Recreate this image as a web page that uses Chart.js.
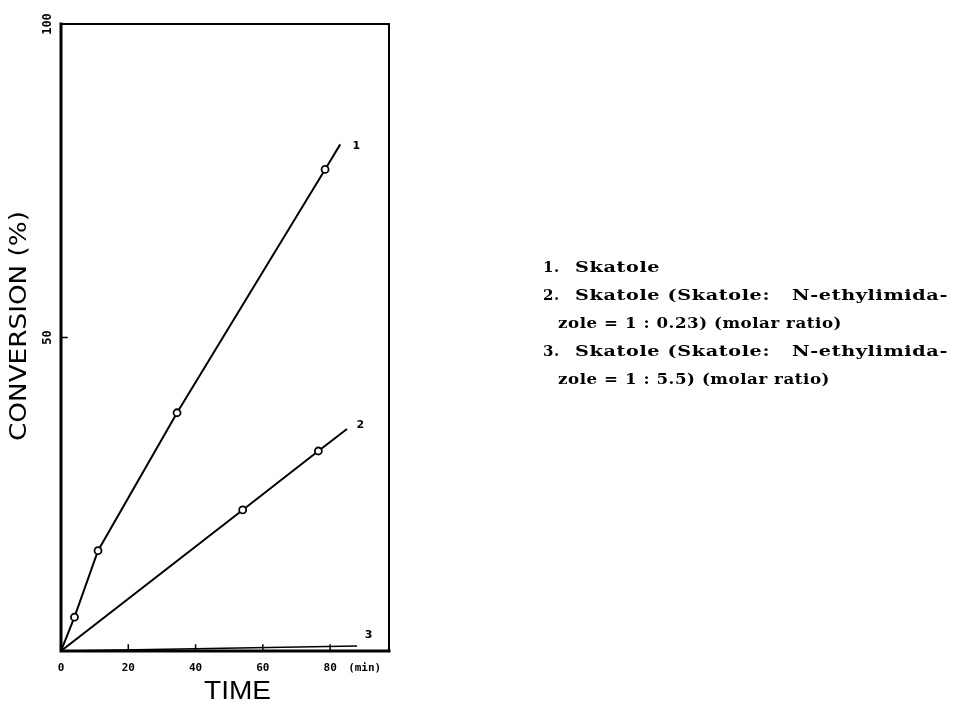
<!DOCTYPE html>
<html>
<head>
<meta charset="utf-8">
<script src="https://cdn.jsdelivr.net/npm/chart.js@4/dist/chart.umd.min.js"></script>
<style>
  html, body { margin: 0; padding: 0; background: #fff; }
  #wrap { width: 956px; height: 714px; }
</style>
</head>
<body>
<div id="wrap"><canvas id="conv" width="956" height="714"></canvas></div>
<script>
// values (time in min, conversion in %)
const time1 = [0, 4, 11, 34.5, 78.5, 83];
const conv1 = [0, 5.4, 16, 38, 76.8, 80.8];
const marks1 = [0, 1, 1, 1, 1, 0];

const time2 = [0, 54, 76.5, 85];
const conv2 = [0, 22.5, 31.9, 35.4];
const marks2 = [0, 1, 1, 0];

const time3 = [0, 88];
const conv3 = [0, 0.8];

const xTicks = [0, 20, 40, 60, 80];
const yTicks = [50, 100];

// where the curve numbers sit (data coords)
const curveLabels = ['1', '2', '3'];
const labelX = [87.8, 89, 91.4];
const labelY = [80.5, 36, 2.6];

const legendNums = ['1.', '2.', '', '3.', ''];
const legendText = [
  'Skatole',
  'Skatole (Skatole:   N-ethylimida-',
  'zole = 1 : 0.23) (molar ratio)',
  'Skatole (Skatole:   N-ethylimida-',
  'zole = 1 : 5.5) (molar ratio)',
];
// printed width of each line (px), null = same stretch as line 2
const legendWidth = [null, 373, 284, 373, 272];

function pts(xs, ys) {
  return xs.map((x, i) => ({ x: x, y: ys[i] }));
}

function fitText(ctx, text, x, y, w) {
  const m = ctx.measureText(text).width;
  ctx.save();
  ctx.translate(x, y);
  ctx.scale(w / m, 1);
  ctx.fillText(text, 0, 0);
  ctx.restore();
}

const decor = {
  id: 'decor',
  afterDraw(chart) {
    const ctx = chart.ctx;
    const a = chart.chartArea;
    const xs = chart.scales.x, ys = chart.scales.y;
    ctx.save();
    ctx.strokeStyle = '#000';
    ctx.fillStyle = '#000';
    ctx.lineCap = 'square';

    // frame
    ctx.lineWidth = 2;
    ctx.beginPath();
    ctx.moveTo(a.left, a.top); ctx.lineTo(a.right, a.top); ctx.lineTo(a.right, a.bottom);
    ctx.stroke();
    ctx.lineWidth = 3;
    ctx.beginPath();
    ctx.moveTo(a.left, a.top); ctx.lineTo(a.left, a.bottom); ctx.lineTo(a.right, a.bottom);
    ctx.stroke();

    // tick marks
    ctx.lineWidth = 1.5;
    xTicks.slice(1).forEach(v => {
      const px = xs.getPixelForValue(v);
      ctx.beginPath(); ctx.moveTo(px, a.bottom); ctx.lineTo(px, a.bottom - 6); ctx.stroke();
    });
    const y50 = ys.getPixelForValue(50);
    ctx.beginPath(); ctx.moveTo(a.left, y50); ctx.lineTo(a.left + 6, y50); ctx.stroke();

    // x tick labels
    ctx.font = 'bold 11px "DejaVu Sans Mono"';
    ctx.textAlign = 'center';
    ctx.textBaseline = 'middle';
    xTicks.forEach(v => ctx.fillText(String(v), xs.getPixelForValue(v), a.bottom + 17));
    ctx.textAlign = 'left';
    ctx.fillText('(min)', xs.getPixelForValue(80) + 18, a.bottom + 17);

    // y tick labels, rotated
    ctx.font = 'bold 12px "DejaVu Sans Mono"';
    yTicks.forEach(v => {
      ctx.save();
      ctx.translate(a.left - 13, ys.getPixelForValue(v));
      ctx.rotate(-Math.PI / 2);
      ctx.textAlign = 'center';
      ctx.fillText(String(v), 0, 0);
      ctx.restore();
    });

    // curve numbers
    ctx.font = 'bold 11px "DejaVu Sans"';
    ctx.textAlign = 'center';
    curveLabels.forEach((t, i) => {
      ctx.fillText(t, xs.getPixelForValue(labelX[i]), ys.getPixelForValue(labelY[i]));
    });

    // axis titles
    ctx.font = '23px "DejaVu Sans Condensed"';
    ctx.textBaseline = 'middle';
    ctx.textAlign = 'left';
    ctx.save();
    ctx.translate(20, 326);
    ctx.rotate(-Math.PI / 2);
    fitText(ctx, 'CONVERSION (%)', -115, 0, 230);
    ctx.restore();

    ctx.font = '25px "Liberation Sans"';
    fitText(ctx, 'TIME', 204, 692, 67);

    // legend block
    ctx.font = 'bold 15px "DejaVu Serif"';
    ctx.letterSpacing = '0.5px';
    ctx.textAlign = 'left';
    const k = legendWidth[1] / ctx.measureText(legendText[1]).width;
    legendText.forEach((t, i) => {
      const y = 268 + i * 28;
      if (legendNums[i]) ctx.fillText(legendNums[i], 543, y);
      const x = legendNums[i] ? 575 : 558;
      const w = legendWidth[i] || ctx.measureText(t).width * k;
      fitText(ctx, t, x, y, w);
    });

    ctx.restore();
  }
};

new Chart(document.getElementById('conv'), {
  type: 'scatter',
  data: {
    datasets: [
      {
        data: pts(time1, conv1),
        showLine: true,
        borderColor: '#000',
        borderWidth: 2,
        pointRadius: marks1.map(m => m ? 3.5 : 0),
        pointBackgroundColor: '#fff',
        pointBorderColor: '#000',
        pointBorderWidth: 1.8,
      },
      {
        data: pts(time2, conv2),
        showLine: true,
        borderColor: '#000',
        borderWidth: 2,
        pointRadius: marks2.map(m => m ? 3.5 : 0),
        pointBackgroundColor: '#fff',
        pointBorderColor: '#000',
        pointBorderWidth: 1.8,
      },
      {
        data: pts(time3, conv3),
        showLine: true,
        borderColor: '#000',
        borderWidth: 1.5,
        pointRadius: 0,
      },
    ],
  },
  options: {
    responsive: false,
    animation: false,
    layout: { padding: { left: 61, top: 24, right: 567, bottom: 63 } },
    plugins: { legend: { display: false }, tooltip: { enabled: false } },
    scales: {
      x: { type: 'linear', min: 0, max: 97.5, display: false },
      y: { type: 'linear', min: 0, max: 100, display: false },
    },
  },
  plugins: [decor],
});
</script>
</body>
</html>
